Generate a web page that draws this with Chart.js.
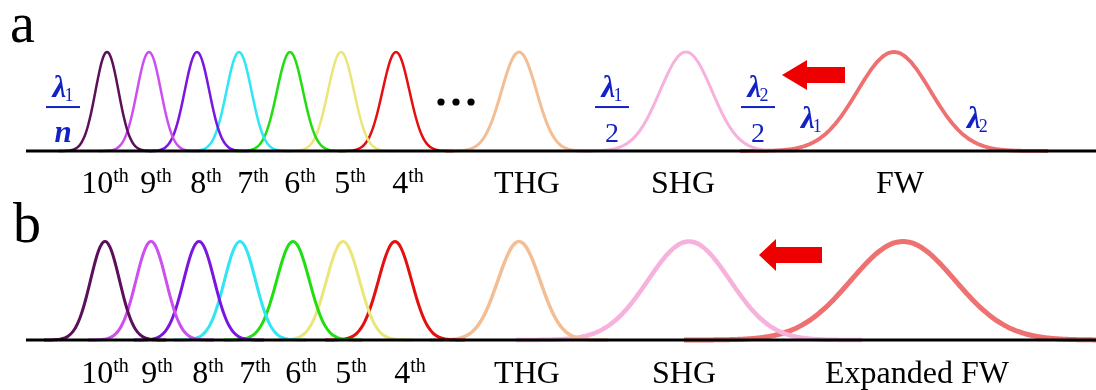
<!DOCTYPE html>
<html>
<head>
<meta charset="utf-8">
<script src="https://cdn.jsdelivr.net/npm/chart.js@4.4.1/dist/chart.umd.min.js"></script>
<style>
html,body{margin:0;padding:0;background:#fff;overflow:hidden}
canvas{display:block}
</style>
</head>
<body>
<canvas id="c" width="1096" height="390"></canvas>
<script>
// ---------- data ----------
const categoriesA = ['10th','9th','8th','7th','6th','5th','4th','THG','SHG','FW'];
const categoriesB = ['10th','9th','8th','7th','6th','5th','4th','THG','SHG','Expanded FW'];
// tick-label positions along the wavelength axis
const labelAtA = [105,156,206,253,300,350,408,527,683,900];
const labelAtB = [105,157,208,255,301,351,410,527,684,917];
// peak centre (wavelength position), peak width (sigma) and height
const peakCentersA = [107,149,197,239,290,341,396,519,686,894];
const peakWidthsA  = [11.5,12,12.3,12.5,13,13,13.5,17.5,26,36.5];
const peakHeightsA = [1,1,1,1,1,1,1,1,1,1];
const peakCentersB = [105,151,199,240,293,343,395,519,689,903];
const peakWidthsB  = [14.5,15,15.3,15.5,16.3,16.5,16.5,21,41,52];
const peakHeightsB = [1,1,1,1,1,1,1,1,1,1];
const baselineRange = [26,1096];

// ---------- styles ----------
const seriesColors = ['#5c0f5a','#cc4ff0','#7b16e0','#2ee6f5','#22dd11','#eae67a','#e31010','#f4be94','#f7b1dd','#ee7070'];
const lineWidthsA = [2.5,2.5,2.5,2.5,2.5,2.5,2.5,3,3,3.8];
const lineWidthsB = [3,3,3,3,3,3,3,3.5,4.5,5];
const blue = '#1222c4';
const SERIF = '"Liberation Serif","Times New Roman",serif';

function gaussian(c, s, h) {
  const pts = [];
  for (let x = Math.floor(c - 4.2 * s); x <= Math.ceil(c + 4.2 * s); x += 2) {
    pts.push({x, y: h * Math.exp(-((x - c) ** 2) / (2 * s * s))});
  }
  return pts;
}

const datasets = [];
datasets.push({label:'baselineA', data: baselineRange.map(x => ({x, y:0})), yAxisID:'yA', borderColor:'#000', borderWidth:3, order:0});
datasets.push({label:'baselineB', data: baselineRange.map(x => ({x, y:0})), yAxisID:'yB', borderColor:'#000', borderWidth:3, order:0});
categoriesA.forEach((name, i) => {
  datasets.push({label:'a '+name, data: gaussian(peakCentersA[i], peakWidthsA[i], peakHeightsA[i]), yAxisID:'yA',
    borderColor: seriesColors[i], borderWidth: lineWidthsA[i], order:1});
});
categoriesB.forEach((name, i) => {
  datasets.push({label:'b '+name, data: gaussian(peakCentersB[i], peakWidthsB[i], peakHeightsB[i]), yAxisID:'yB',
    borderColor: seriesColors[i], borderWidth: lineWidthsB[i], order:1});
});

// ---------- annotation drawing ----------
function drawLabel(ctx, text, cx, by, size) {
  const m = text.match(/^(\d+)(th)$/);
  ctx.fillStyle = '#000';
  ctx.textBaseline = 'alphabetic';
  ctx.textAlign = 'left';
  if (m) {
    ctx.font = size + 'px ' + SERIF;
    const wm = ctx.measureText(m[1]).width;
    const sup = Math.round(size * 0.62);
    ctx.font = sup + 'px ' + SERIF;
    const ws = ctx.measureText(m[2]).width;
    const x0 = cx - (wm + ws) / 2;
    ctx.font = size + 'px ' + SERIF;
    ctx.fillText(m[1], x0, by);
    ctx.font = sup + 'px ' + SERIF;
    ctx.fillText(m[2], x0 + wm, by - size * 0.33);
  } else {
    ctx.font = size + 'px ' + SERIF;
    ctx.textAlign = 'center';
    ctx.fillText(text, cx, by);
  }
}
const LAMBDA_FONT = 'italic bold 31px ' + SERIF;
const SUB_FONT = '18px ' + SERIF;
function lambdaWidth(ctx, sub) {
  ctx.font = LAMBDA_FONT;
  const w = ctx.measureText('λ').width;
  ctx.font = SUB_FONT;
  return w - 2 + ctx.measureText(sub).width;
}
function drawLambda(ctx, sub, x, by) {
  ctx.fillStyle = blue;
  ctx.textAlign = 'left';
  ctx.textBaseline = 'alphabetic';
  ctx.font = LAMBDA_FONT;
  ctx.fillText('λ', x, by);
  const w = ctx.measureText('λ').width;
  ctx.font = SUB_FONT;
  ctx.fillText(sub, x + w - 2, by + 4);
}
function drawFraction(ctx, sub, den, denFont, cx, ly) {
  ctx.save();
  const numW = lambdaWidth(ctx, sub);
  drawLambda(ctx, sub, cx - numW / 2, ly - 10);
  ctx.fillStyle = blue;
  ctx.fillRect(cx - 17, ly - 1, 34, 2);
  ctx.font = denFont + ' ' + SERIF;
  ctx.textAlign = 'center';
  ctx.fillText(den, cx, ly + 35);
  ctx.restore();
}
function drawArrow(ctx, tip, tail, back, cy, headH, shaftH) {
  ctx.fillStyle = '#ee0000';
  ctx.beginPath();
  ctx.moveTo(tip, cy);
  ctx.lineTo(back, cy - headH);
  ctx.lineTo(back, cy - shaftH);
  ctx.lineTo(tail, cy - shaftH);
  ctx.lineTo(tail, cy + shaftH);
  ctx.lineTo(back, cy + shaftH);
  ctx.lineTo(back, cy + headH);
  ctx.closePath();
  ctx.fill();
}

const annotations = {
  id: 'annotations',
  afterDatasetsDraw(chart) {
    const ctx = chart.ctx;
    const {x, yA, yB} = chart.scales;
    ctx.save();
    // panel letters
    ctx.fillStyle = '#000';
    ctx.textAlign = 'left';
    ctx.textBaseline = 'alphabetic';
    ctx.font = '56px ' + SERIF;
    ctx.fillText('a', x.getPixelForValue(10), yA.getPixelForValue(1.101));
    ctx.fillText('b', x.getPixelForValue(13), yB.getPixelForValue(0.995));
    // category labels
    categoriesA.forEach((t, i) => drawLabel(ctx, t, x.getPixelForValue(labelAtA[i]), yA.getPixelForValue(-0.424), 32));
    categoriesB.forEach((t, i) => drawLabel(ctx, t, x.getPixelForValue(labelAtB[i]), yB.getPixelForValue(-0.437), 32));
    // ellipsis dots
    ctx.fillStyle = '#000';
    [441, 456, 471].forEach(v => {
      ctx.beginPath();
      ctx.arc(x.getPixelForValue(v), yA.getPixelForValue(0.495), 3.6, 0, Math.PI * 2);
      ctx.fill();
    });
    // wavelength annotations
    const ly = yA.getPixelForValue(0.444);
    drawFraction(ctx, '1', 'n', 'italic bold 31px', x.getPixelForValue(63), ly);
    drawFraction(ctx, '1', '2', '28px', x.getPixelForValue(612), ly);
    drawFraction(ctx, '2', '2', '28px', x.getPixelForValue(758), ly);
    drawLambda(ctx, '1', x.getPixelForValue(801), yA.getPixelForValue(0.232));
    drawLambda(ctx, '2', x.getPixelForValue(967), yA.getPixelForValue(0.232));
    // arrows
    drawArrow(ctx, x.getPixelForValue(782), x.getPixelForValue(845), x.getPixelForValue(807), yA.getPixelForValue(0.768), 15, 8);
    drawArrow(ctx, x.getPixelForValue(759), x.getPixelForValue(822), x.getPixelForValue(776), yB.getPixelForValue(0.863), 16, 8);
    ctx.restore();
  }
};

new Chart(document.getElementById('c'), {
  type: 'line',
  data: {datasets},
  options: {
    responsive: false,
    devicePixelRatio: 1,
    animation: false,
    events: [],
    layout: {padding: 0},
    elements: {point: {radius: 0}, line: {tension: 0.3, fill: false, borderCapStyle: 'butt', borderJoinStyle: 'round'}},
    plugins: {legend: {display: false}, tooltip: {enabled: false}, title: {display: false}},
    scales: {
      x: {type: 'linear', min: 0, max: 1096, display: false},
      yA: {type: 'linear', min: -2.4141, max: 1.5253, display: false},
      yB: {type: 'linear', min: -0.5076, max: 3.4518, display: false}
    }
  },
  plugins: [annotations]
});
</script>
</body>
</html>
